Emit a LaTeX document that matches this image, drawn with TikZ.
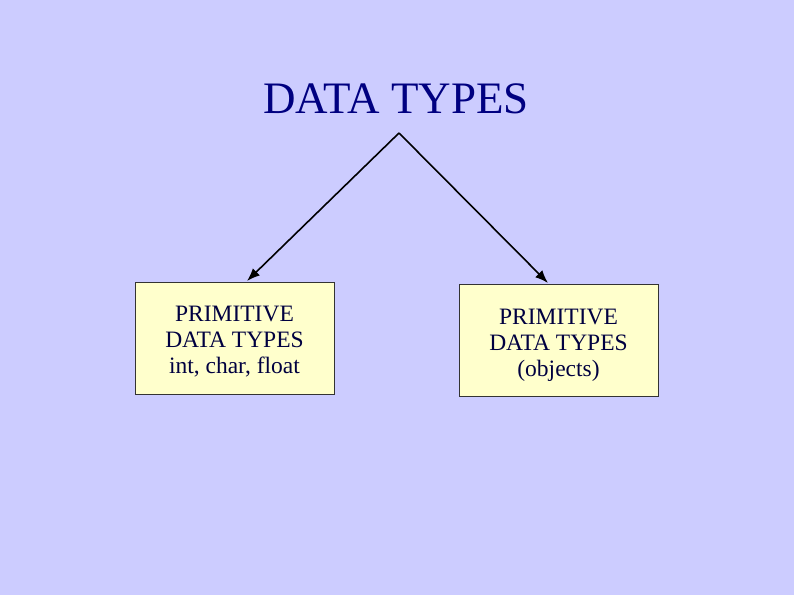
\documentclass[tikz,border=0pt]{standalone}
\usepackage{fontspec}
\setmainfont{Liberation Serif}
\usetikzlibrary{arrows.meta}
\definecolor{bg}{HTML}{CCCCFF}
\definecolor{boxfill}{HTML}{FFFFCC}
\definecolor{navy}{HTML}{000080}
\definecolor{boxtext}{HTML}{000040}
\begin{document}
\begin{tikzpicture}[x=1pt,y=-1pt,
  databox/.style={draw=black!80,line width=0.8pt,fill=boxfill,minimum width=199pt,minimum height=112pt,inner sep=0pt},
  boxlabel/.style={align=center,font=\fontsize{23.5}{26}\selectfont,text=boxtext,inner sep=0pt},
  conn/.style={line width=1.6pt,-{Latex[length=13pt,width=10pt]}}]
\fill[bg] (0,0) rectangle (794,595);
\useasboundingbox (0,0) rectangle (794,595);
\node[text=navy,font=\fontsize{45}{50}\selectfont] (title) at (396,99) {DATA TYPES};
\node[databox] (left) at (234.5,338) {};
\node[databox] (right) at (558.5,340) {};
\node[boxlabel] (leftText) at (234.5,342) {PRIMITIVE\\DATA TYPES\\int, char, float};
\node[boxlabel] (rightText) at (558.5,345) {PRIMITIVE\\DATA TYPES\\(objects)};
\coordinate (apex) at (399,133);
\coordinate (tipL) at (247,281);
\coordinate (tipR) at (548,283);
\draw[conn] (apex) -- (tipL);
\draw[conn] (apex) -- (tipR);
\end{tikzpicture}
\end{document}
